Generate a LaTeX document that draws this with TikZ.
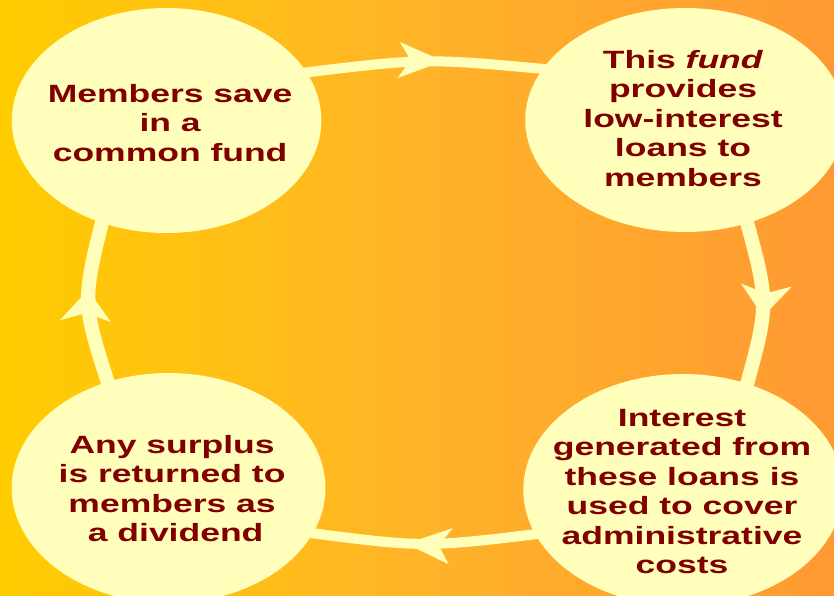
\documentclass[tikz,border=0pt]{standalone}
\usepackage{fontspec}
\setmainfont{Liberation Sans}
\usetikzlibrary{shapes.geometric,arrows.meta,decorations.markings,calc}

\definecolor{bgLeft}{RGB}{255,204,0}
\definecolor{bgMid}{RGB}{255,180,40}
\definecolor{bgRight}{RGB}{255,153,51}
\definecolor{pale}{RGB}{255,255,187}
\definecolor{wine}{RGB}{128,0,0}

\tikzset{
  bubble/.style={ellipse, fill=pale, draw=none, inner sep=0pt},
  bubbletext/.style={text=wine, font=\bfseries\fontsize{25}{29.5}\selectfont,
    align=center, inner sep=0pt},
  cyclearrow/.style={draw=pale, line width=10pt,
    shorten <=-8pt, shorten >=-8pt,
    postaction={decorate},
    decoration={markings, mark=at position 0.58 with
      {\arrow[pale]{Stealth[length=31pt,width=35pt,inset=8pt]}}}},
}

\begin{document}
\begin{tikzpicture}[x=1pt,y=1pt]
  % page and background gradient
  \useasboundingbox (0,0) rectangle (834,-595);
  \shade[left color=bgLeft, right color=bgRight, middle color=bgMid]
    (0,0) rectangle (834,-595);
  \clip (0,0) rectangle (834,-595);

  % the cycle is laid out round and then widened
  \begin{scope}[transform canvas={xscale=1.42}]
    \node[bubble, minimum width=218pt, minimum height=225pt] (tl) at (117.3,-120.5) {};
    \node[bubble, minimum width=225pt, minimum height=224pt] (tr) at (482.4,-120) {};
    \node[bubble, minimum width=225pt, minimum height=232pt] (br) at (481,-490) {};
    \node[bubble, minimum width=221pt, minimum height=230pt] (bl) at (118.7,-488) {};

    % connectors, clockwise
    \draw[cyclearrow] (tl.26) .. controls ($(tl.26)!0.5!(tr.153)+(0,12.7)$) .. (tr.153);
    \draw[cyclearrow] (tr.293) .. controls ($(tr.293)!0.5!(br.67)+(15.5,0)$) .. (br.67);
    \draw[cyclearrow] (br.203) .. controls ($(br.203)!0.5!(bl.336)+(0,-14)$) .. (bl.336);
    \draw[cyclearrow] (bl.112) .. controls ($(bl.112)!0.5!(tl.246)+(-16,0)$) .. (tl.246);

    % texts
    \node[bubbletext] (tlText) at ($(tl.center)+(2.5,-2.5)$)
      {Members save\\in a\hspace*{6pt}\\common fund};
    \node[bubbletext] (trText) at ($(tr.center)+(-1.4,1.5)$)
      {This \textit{fund}\\provides\\low-interest\\loans to\\members};
    \node[bubbletext] (brText) at ($(br.center)+(-0.7,-1.5)$)
      {Interest\\generated from\\these loans is\\used to cover\\administrative\\costs};
    \node[bubbletext] (blText) at ($(bl.center)+(2.5,-0.5)$)
      {Any surplus\\is returned to\\members as\\\hspace*{5pt}a dividend};
  \end{scope}
\end{tikzpicture}
\end{document}
